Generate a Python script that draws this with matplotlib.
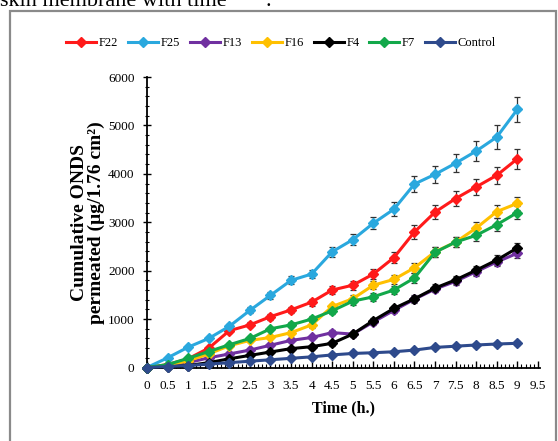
import matplotlib
matplotlib.use("Agg")
import matplotlib.pyplot as plt
from matplotlib.patches import Rectangle
from matplotlib.ticker import MultipleLocator

# time points (h)
time_h = [0, 0.5, 1, 1.5, 2, 2.5, 3, 3.5, 4, 4.5, 5, 5.5, 6, 6.5, 7, 7.5, 8, 8.5, 9]

# cumulative ONDS permeated (µg/1.76 cm²)
f22 = [0, 60, 180, 400, 760, 880, 1050, 1190, 1350, 1600, 1700, 1930, 2270, 2800, 3210, 3490, 3730, 3970, 4310]
f25 = [0, 200, 420, 600, 850, 1180, 1490, 1800, 1930, 2390, 2640, 2980, 3270, 3790, 3990, 4220, 4470, 4760, 5330]
f13 = [0, 30, 100, 200, 280, 360, 460, 560, 620, 720, 690, 940, 1180, 1410, 1620, 1780, 1980, 2180, 2360]
f16 = [0, 40, 140, 280, 450, 560, 620, 720, 880, 1260, 1420, 1700, 1820, 2060, 2390, 2590, 2880, 3220, 3390]
f4 = [0, 10, 40, 100, 180, 250, 320, 390, 430, 500, 690, 970, 1220, 1420, 1640, 1810, 2010, 2220, 2470]
f7 = [0, 60, 190, 330, 470, 600, 800, 880, 1000, 1170, 1370, 1460, 1600, 1850, 2380, 2590, 2730, 2950, 3200]
control = [0, 20, 40, 70, 100, 130, 160, 190, 220, 260, 290, 305, 325, 360, 415, 440, 465, 485, 500]

# error bars (SD)
f22_err = [0, 10, 20, 30, 40, 50, 60, 60, 70, 80, 90, 100, 110, 140, 150, 160, 170, 180, 200]
f25_err = [0, 20, 30, 40, 50, 60, 70, 80, 90, 100, 110, 120, 140, 170, 180, 190, 200, 240, 260]
f13_err = [0, 10, 10, 20, 20, 30, 30, 40, 40, 50, 50, 60, 60, 70, 70, 80, 80, 90, 100]
f16_err = [0, 10, 20, 20, 30, 40, 40, 50, 60, 60, 70, 80, 90, 100, 100, 110, 120, 130, 140]
f4_err = [0, 10, 10, 20, 20, 30, 30, 40, 40, 50, 50, 60, 60, 70, 80, 80, 90, 100, 110]
f7_err = [0, 10, 20, 20, 30, 40, 40, 50, 60, 60, 70, 80, 90, 100, 100, 110, 120, 130, 140]
control_err = [0, 5, 5, 10, 10, 10, 15, 15, 20, 20, 20, 25, 25, 30, 30, 30, 35, 35, 40]

x_labels = ["0", "0.5", "1", "1.5", "2", "2.5", "3", "3.5", "4", "4.5",
            "5", "5.5", "6", "6.5", "7", "7.5", "8", "8.5", "9", "9.5"]

series = [
    ("F22", f22, f22_err, "#FF1A1A"),
    ("F25", f25, f25_err, "#2AA8DE"),
    ("F13", f13, f13_err, "#7030A0"),
    ("F16", f16, f16_err, "#FFC000"),
    ("F4", f4, f4_err, "#000000"),
    ("F7", f7, f7_err, "#12A84A"),
    ("Control", control, control_err, "#2E4A8C"),
]

serif = ["Liberation Serif", "DejaVu Serif"]

fig = plt.figure(figsize=(5.58, 4.41), dpi=100)

# caption cut off at the top of the screenshot
fig.text(0.0, 1 - 6 / 441, "skin membrane with time       .", family=serif,
         fontsize=16, va="baseline", ha="left")

# grey frame around the chart
fig.patches.append(Rectangle((10 / 558, -0.02), 546 / 558, 1 - 11 / 441 + 0.02,
                             transform=fig.transFigure, fill=False,
                             edgecolor="#8a8a8a", linewidth=1.6))

ax = fig.add_axes([147 / 558, (441 - 367.5) / 441, 393 / 558, 290.5 / 441])

handles = []
for name, vals, err, col in series:
    ax.errorbar(time_h, vals, yerr=err, fmt="none", ecolor="#333333",
                elinewidth=0.9, capsize=2.5, capthick=0.9, zorder=2, clip_on=False)
    ln, = ax.plot(time_h, vals, color=col, linewidth=2.2, marker="D",
                  markersize=5.5, markeredgecolor=col, zorder=3, clip_on=False,
                  label=name)
    handles.append(ln)

ax.set_xlim(0, 9.55)
ax.set_ylim(0, 6000)
ax.xaxis.set_minor_locator(MultipleLocator(0.1))
ax.yaxis.set_major_locator(MultipleLocator(1000))
ax.yaxis.set_minor_locator(MultipleLocator(200))

ax.set_xticks([i * 0.5 for i in range(len(x_labels))])
ax.set_xticklabels(x_labels)

for side in ("top", "right"):
    ax.spines[side].set_visible(False)
ax.spines["left"].set_linewidth(1.3)
ax.spines["bottom"].set_linewidth(1.3)

ax.tick_params(axis="x", which="major", direction="in", length=5, width=1, pad=9)
ax.tick_params(axis="x", which="minor", direction="in", length=3, width=0.8)
ax.tick_params(axis="y", which="major", direction="inout", length=6, width=1, pad=6)
ax.tick_params(axis="y", which="minor", direction="inout", length=3, width=0.8)
for lab in ax.get_xticklabels() + ax.get_yticklabels():
    lab.set_family(serif)
    lab.set_fontsize(9.5)

ax.set_xlabel("Time (h.)", family=serif, fontsize=11.5, fontweight="bold", labelpad=6)
ax.set_ylabel("Cumulative ONDS\npermeated (µg/1.76 cm²)", family=serif,
              fontsize=14, fontweight="bold", labelpad=2, linespacing=1.0)

fig.legend(handles=handles, loc="center", bbox_to_anchor=(281 / 558, 1 - 43 / 441),
           ncol=7, frameon=False, handlelength=2.4, handletextpad=0.2,
           columnspacing=0.8, prop={"family": serif, "size": 9})

fig.savefig("out.png", dpi=100)
